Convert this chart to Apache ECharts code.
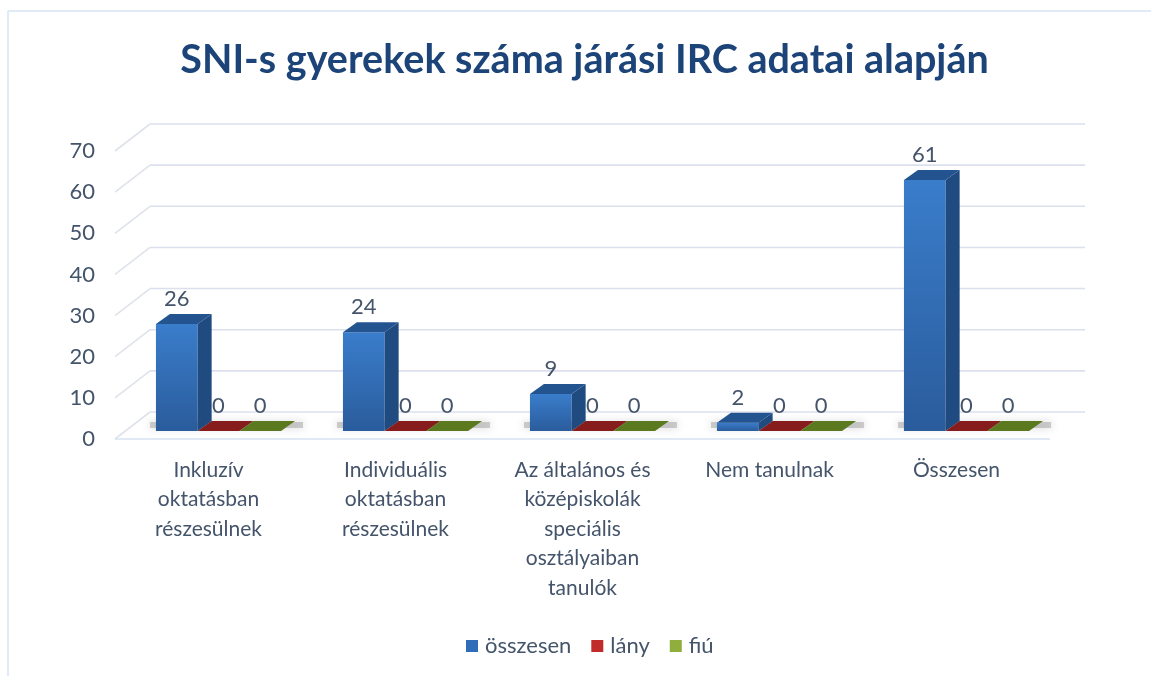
<!DOCTYPE html>
<html>
<head>
<meta charset="utf-8">
<style>html,body{margin:0;padding:0;background:#fff}#c{width:1151px;height:676px}</style>
<script src="https://cdn.jsdelivr.net/npm/echarts@6/dist/echarts.min.js"></script>
</head>
<body>
<div id="c"></div>
<script>
const categories = ['Inkluzív\noktatásban\nrészesülnek','Individuális\noktatásban\nrészesülnek','Az általános és\nközépiskolák\nspeciális\nosztályaiban\ntanulók','Nem tanulnak','Összesen'];
const osszesen = [26,24,9,2,61];
const lany = [0,0,0,0,0];
const fiu = [0,0,0,0,0];
const yTicks = [0,10,20,30,40,50,60,70];

const FONT = 'Lato, "Noto Sans", sans-serif';
const TEXT = '#44546a';
const WALL = [35,-27];   // floor depth, front edge to back wall
const BASE = [10,-8];    // bar front face offset from the front edge
const DEPTH = [14,-10];  // bar depth
const GROUP = 3;

function poly(points, fill, z2){
  return {type:'polygon', shape:{points}, style:{fill}, z2:z2||0};
}
function wallItem(params, api){
  const g = params.coordSys;
  const p = api.coord([0, api.value(0)]);
  const y = p[1], x0 = g.x, x1 = g.x + g.width;
  const kids = [
    {type:'line', shape:{x1:x0,y1:y,x2:x0+WALL[0],y2:y+WALL[1]}, style:{stroke:'#dfe3ea',lineWidth:1.6}},
    {type:'line', shape:{x1:x0+WALL[0],y1:y+WALL[1],x2:x1+WALL[0],y2:y+WALL[1]}, style:{stroke:'#dcdfee',lineWidth:1.6}}
  ];
  if (api.value(0) === 0) kids.push({type:'line', shape:{x1:x0,y1:y,x2:x1,y2:y}, style:{stroke:'#d6e2f2',lineWidth:1.6}});
  return {type:'group', children:kids};
}
function shadowItem(params, api){
  const p = api.coord([api.value(0), 0]);
  const band = api.size([1,0])[0], bw = band*0.223;
  const cx = p[0]+BASE[0], y = p[1]+BASE[1];
  const l = cx-1.5*bw-6, r = cx+1.5*bw+22;
  return {type:'rect', shape:{x:l,y:y-9,width:r-l,height:6},
    style:{fill:'rgba(140,140,140,0.4)',shadowBlur:8,shadowColor:'rgba(110,110,110,0.7)'}};
}
function barRender(index, front, side, top){
  return function(params, api){
    const v = api.value(1);
    const base = api.coord([api.value(0), 0]);
    const head = api.coord([api.value(0), v]);
    const band = api.size([1,0])[0], bw = band*0.223;
    const x0 = base[0]+BASE[0]+(index-GROUP/2)*bw, x1 = x0+bw;
    const yb = base[1]+BASE[1], yt = head[1]+BASE[1];
    const dx = DEPTH[0], dy = DEPTH[1];
    const kids = [];
    if (v > 0){
      kids.push({type:'rect', shape:{x:x0,y:yt,width:bw,height:yb-yt},
        style:{fill:new echarts.graphic.LinearGradient(0,0,0,1,[{offset:0,color:front[0]},{offset:1,color:front[1]}])}});
      kids.push(poly([[x1,yt],[x1+dx,yt+dy],[x1+dx,yb+dy],[x1,yb]], side));
    }
    kids.push(poly([[x0,yt],[x1,yt],[x1+dx,yt+dy],[x0+dx,yt+dy]], top));
    kids.push({type:'text', z2:5, style:{x:(x0+x1)/2, y:yt-25, text:String(v), fill:TEXT,
      fontSize:22, fontFamily:FONT, align:'center', verticalAlign:'middle'}});
    return {type:'group', children:kids};
  };
}
function toData(values){ return values.map((v,i)=>[i,v]); }

const chart = echarts.init(document.getElementById('c'), null, {renderer:'canvas'});
chart.setOption({
  animation:false,
  backgroundColor:'#ffffff',
  graphic:[
    {type:'line', z:-1, shape:{x1:8,y1:11,x2:1151,y2:11}, style:{stroke:'#d6e4f5',lineWidth:1.5}},
    {type:'line', z:-1, shape:{x1:8,y1:11,x2:8,y2:676}, style:{stroke:'#d6e4f5',lineWidth:1.5}}
  ],
  title:{text:'SNI-s gyerekek száma járási IRC adatai alapján', left:579.5, top:35, textAlign:'center',
    textStyle:{fontFamily:FONT,fontWeight:'bold',fontSize:39.5,color:'#1c4478'}},
  legend:{bottom:14,left:461,itemWidth:12,itemHeight:12,itemGap:20,icon:'rect',
    data:['összesen','lány','fiú'],
    textStyle:{fontFamily:FONT,fontSize:22,color:TEXT,padding:[0,0,0,2]}},
  grid:{left:115,top:151,width:935,height:288},
  xAxis:{type:'category',data:categories,axisLine:{show:false},axisTick:{show:false},
    axisLabel:{fontFamily:FONT,fontSize:21,color:TEXT,lineHeight:29.5,margin:16,interval:0,verticalAlign:'top'}},
  yAxis:{type:'value',min:0,max:70,interval:10,axisLine:{show:false},axisTick:{show:false},splitLine:{show:false},
    axisLabel:{fontFamily:FONT,fontSize:22,color:TEXT,margin:20,padding:[0,0,2,0]}},
  series:[
    {type:'custom',silent:true,z:1,data:yTicks.map(t=>[t]),encode:{y:0},renderItem:wallItem},
    {type:'custom',silent:true,z:2,data:toData(osszesen),renderItem:shadowItem},
    {name:'összesen',type:'custom',z:3,itemStyle:{color:'#2f6db8'},data:toData(osszesen),
      renderItem:barRender(0,['#3a7dcb','#2a5c9c'],'#1f4b80','#245490')},
    {name:'lány',type:'custom',z:4,itemStyle:{color:'#bf2c2a'},data:toData(lany),
      renderItem:barRender(1,['#c0302c','#8a1c1c'],'#6e1515','#861c1c')},
    {name:'fiú',type:'custom',z:5,itemStyle:{color:'#8fae3c'},data:toData(fiu),
      renderItem:barRender(2,['#8fae3c','#5d7a1f'],'#4d6618','#5b7a20')}
  ]
});
</script>
</body>
</html>
